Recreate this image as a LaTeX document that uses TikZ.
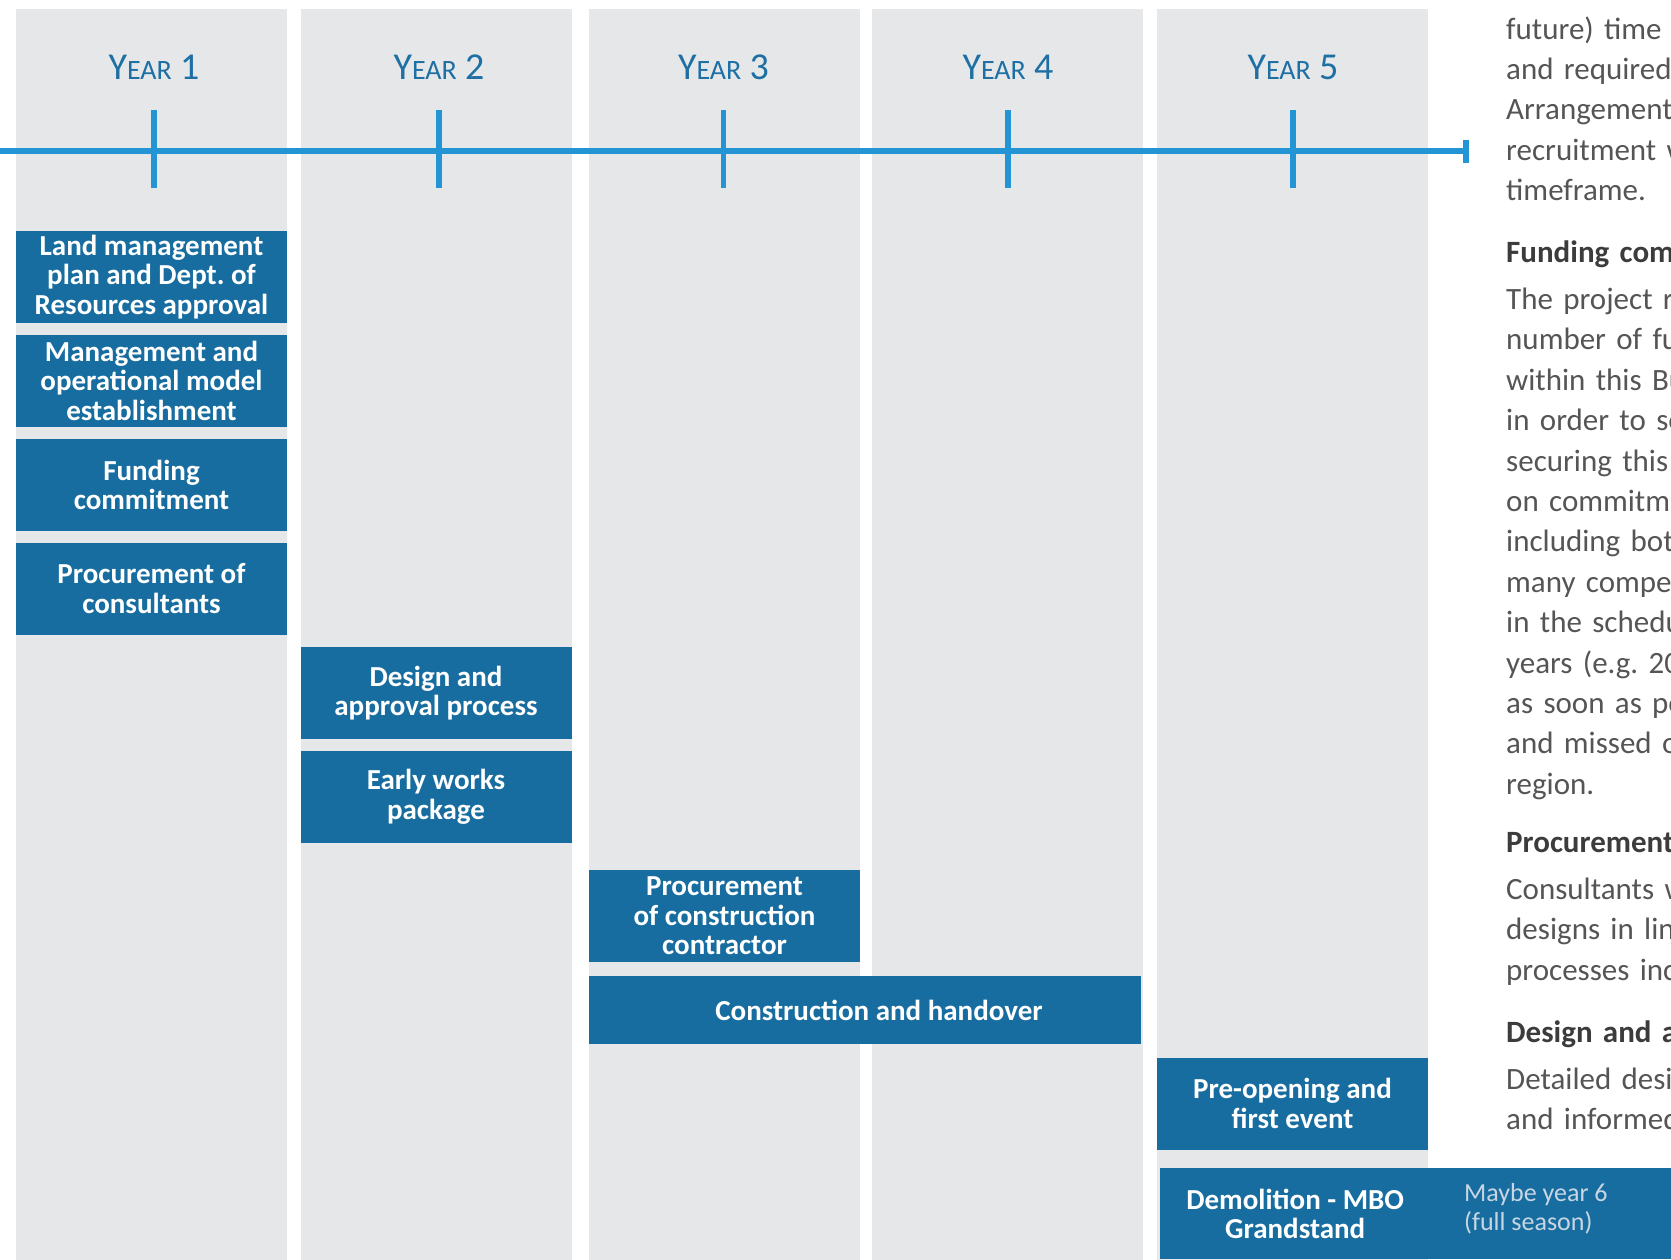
\documentclass[tikz,border=0pt]{standalone}
\usepackage{fontspec}
\setmainfont{Carlito}
\usepackage{tikz}
\usetikzlibrary{chains,positioning}

\definecolor{colgray}{HTML}{E6E7E9}
\definecolor{taskblue}{HTML}{176D9F}
\definecolor{lineblue}{HTML}{2394D4}
\definecolor{yearblue}{HTML}{1D6FA4}
\definecolor{bodygray}{HTML}{555555}
\definecolor{headgray}{HTML}{3C3C3C}
\definecolor{notegray}{HTML}{C8D6E4}

\newcommand{\yearname}[1]{Y{\fontsize{28}{28}\selectfont EAR}\hspace{0.22em}#1}
\frenchspacing

\begin{document}
\begin{tikzpicture}[x=1pt,y=-1pt]
\tikzstyle{yearcol}=[fill=colgray,minimum width=271pt,minimum height=1260pt,inner sep=0pt,anchor=north west]
\tikzstyle{yearhead}=[text=yearblue,font=\fontsize{38}{38}\selectfont,inner sep=0pt]
\tikzstyle{timeline}=[draw=lineblue,line width=5.5pt]
\tikzstyle{task}=[fill=taskblue,text=white,font=\fontsize{29}{29.5}\selectfont\bfseries,align=center,minimum width=271pt,minimum height=92pt,inner sep=0pt]
\tikzstyle{note}=[text=notegray,font=\fontsize{26}{28.5}\selectfont,align=left,inner sep=0pt]
\tikzstyle{bodyline}=[text=bodygray,font=\fontsize{31}{40}\selectfont,text width=260pt,align=left,inner sep=0pt,text height=24pt,text depth=16pt]
\tikzstyle{headline}=[bodyline,text=headgray,font=\fontsize{31}{40}\selectfont\bfseries,text depth=23pt]

\useasboundingbox (0,0) rectangle (1671,1259);
\clip (0,0) rectangle (1671,1259);

% columns for the five years
\node[yearcol] (col1) at (16,8.5) {};
\node[yearcol] (col2) at (300.5,8.5) {};
\node[yearcol] (col3) at (589,8.5) {};
\node[yearcol] (col4) at (872,8.5) {};
\node[yearcol] (col5) at (1157,8.5) {};

% timeline
\coordinate (tlstart) at (0,151);
\coordinate (tlend) at (1466,151);
\draw[timeline] (tlstart) -- (tlend);
\draw[timeline] ([yshift=11.5pt]tlend) -- ([yshift=-11.5pt]tlend);
\foreach \x/\n in {154/1,439/2,723.5/3,1008/4,1293/5} {
  \node[yearhead] (year\n) at (\x,67) {\yearname{\n}};
  \draw[timeline] (\x,110) -- (\x,187.5);
}

% year 1
\begin{scope}[start chain=tasks1 going below,node distance=11.5pt,shift={(151.5,277)}]
    \node [on chain=tasks1,task] (landplan) {Land management\\plan and Dept. of\\Resources approval};
    \node [on chain=tasks1,task] (opmodel) {Management and\\operational model\\establishment};
    \node [on chain=tasks1,task] (funding) {Funding\\commitment};
    \node [on chain=tasks1,task] (consultants) {Procurement of\\consultants};
\end{scope}
% year 2
\begin{scope}[start chain=tasks2 going below,node distance=11.5pt,shift={(436,693)}]
    \node [on chain=tasks2,task] (designappr) {Design and\\approval process};
    \node [on chain=tasks2,task] (earlyworks) {Early works\\package};
\end{scope}
% year 3 and 4
\node [task] (contractor) at (724.5,916) {Procurement\\of construction\\contractor};
\node [task,minimum width=552pt,minimum height=68pt,below=14pt of contractor.south west,anchor=north west] (construction) {\hspace*{28pt}Construction and handover};
% year 5
\node [task] (preopening) at (1292.5,1103.5) {Pre-opening and\\first event};
\node [task,minimum height=91pt,anchor=north west] (demolition) at (1159.5,1168) {Demolition - MBO\\Grandstand};
\fill[taskblue] ([xshift=-1pt]demolition.north east) rectangle (1671,1259);
\node [note,anchor=west] (maybeyear) at (1464,1209) {Maybe year 6\\(full season)};

% text beside the chart
\begin{scope}[start chain=para1 going below,node distance=0pt,shift={(1506,39)}]
    \node [on chain=para1,bodyline,anchor=base west] {future) time t};
    \node [on chain=para1,bodyline] {and required};
    \node [on chain=para1,bodyline] {Arrangement};
    \node [on chain=para1,bodyline] {recruitment w};
    \node [on chain=para1,bodyline] {timeframe.};
\end{scope}
\begin{scope}[start chain=para2 going below,node distance=0pt,shift={(1506,262)}]
    \node [on chain=para2,headline,anchor=base west] {Funding com};
    \node [on chain=para2,bodyline] {The project re};
    \node [on chain=para2,bodyline] {number of fu};
    \node [on chain=para2,bodyline] {within this Bu};
    \node [on chain=para2,bodyline] {in order to se};
    \node [on chain=para2,bodyline] {securing this};
    \node [on chain=para2,bodyline] {on commitme};
    \node [on chain=para2,bodyline] {including bot};
    \node [on chain=para2,bodyline] {many compe};
    \node [on chain=para2,bodyline] {in the schedu};
    \node [on chain=para2,bodyline] {years (e.g. 20};
    \node [on chain=para2,bodyline] {as soon as po};
    \node [on chain=para2,bodyline] {and missed o};
    \node [on chain=para2,bodyline] {region.};
\end{scope}
\begin{scope}[start chain=para3 going below,node distance=0pt,shift={(1506,852)}]
    \node [on chain=para3,headline,anchor=base west] {Procurement};
    \node [on chain=para3,bodyline] {Consultants w};
    \node [on chain=para3,bodyline] {designs in lin};
    \node [on chain=para3,bodyline] {processes inc};
\end{scope}
\begin{scope}[start chain=para4 going below,node distance=0pt,shift={(1506,1042)}]
    \node [on chain=para4,headline,anchor=base west] {Design and a};
    \node [on chain=para4,bodyline] {Detailed desi};
    \node [on chain=para4,bodyline] {and informed};
\end{scope}
\end{tikzpicture}
\end{document}
